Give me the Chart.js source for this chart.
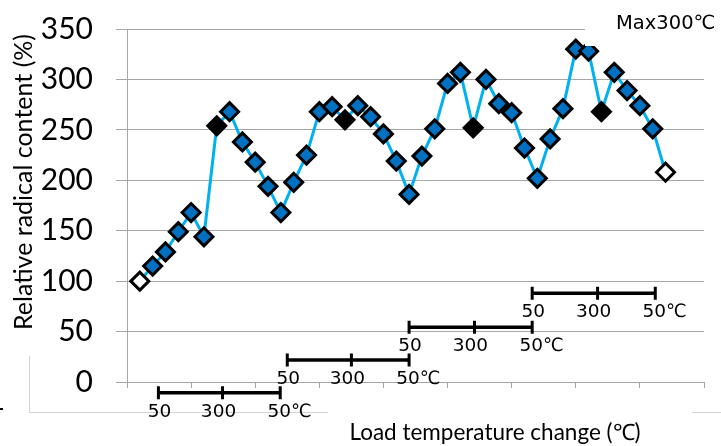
<!DOCTYPE html>
<html>
<head>
<meta charset="utf-8">
<script src="https://cdn.jsdelivr.net/npm/chart.js@4/dist/chart.umd.min.js"></script>
<style>
  html, body { margin: 0; padding: 0; background: #fff; }
  canvas { display: block; }
</style>
</head>
<body>
<canvas id="c" width="721" height="446" style="width:721px;height:446px"></canvas>
<script>
// ---- data ----
const sampleNo = [1,2,3,4,5,6,7,8,9,10,11,12,13,14,15,16,17,18,19,20,21,22,23,24,25,26,27,28,29,30,31,32,33,34,35,36,37,38,39,40,41,42];
const radicalContent = [100,115,129,149,168,144,254,268,238,218,194,168,198,225,268,273,260,274,263,246,219,186,224,251,296,307,252,300,276,267,232,202,241,271,330,328,268,307,289,274,251,208];
const blackPoints = [7,17,27,37];
const hollowPoints = [1,42];
const yTicks = [0,50,100,150,200,250,300,350];

// load-cycle brackets (x in sample units, level in % units)
const cycleStart = [2.45, 12.5, 22.0, 31.6];
const cycleMid   = [7.45, 17.5, 27.1, 36.7];
const cycleEnd   = [11.95, 22.0, 31.6, 41.2];
const cycleLevel = [-10.6, 21.8, 54.2, 87.9];
const cycleLabels = ['50', '300', '50℃'];

const yTitle = 'Relative radical content (%)';
const xTitle = 'Load temperature change (℃)';
const maxNote = 'Max300℃';

const GRID = '#a6a6a6';

const decor = {
  id: 'decor',
  beforeDraw(chart) {
    const ctx = chart.ctx;
    ctx.save();
    ctx.strokeStyle = '#d4d4d4';
    ctx.lineWidth = 1;
    ctx.beginPath();
    ctx.moveTo(29.5, 356); ctx.lineTo(29.5, 412.5);
    ctx.moveTo(29, 412.5); ctx.lineTo(328, 412.5);
    ctx.moveTo(692, 412.5); ctx.lineTo(721, 412.5);
    ctx.stroke();
    ctx.fillStyle = '#000';
    ctx.fillRect(0, 408, 3, 2);
    ctx.restore();
  },
  afterDatasetsDraw(chart) {
    const ctx = chart.ctx;
    const xs = chart.scales.x, ys = chart.scales.y;
    ctx.save();
    // white text box for "Max300℃"
    ctx.fillStyle = '#fff';
    ctx.fillRect(585, 0, 136, 46);
    ctx.fillStyle = '#000';
    ctx.font = '19.5px "DejaVu Sans"';
    ctx.textAlign = 'left';
    ctx.textBaseline = 'alphabetic';
    ctx.fillText(maxNote, 616, 28.5);

    // brackets
    ctx.strokeStyle = '#000';
    ctx.lineCap = 'butt';
    for (let i = 0; i < cycleStart.length; i++) {
      const x0 = xs.getPixelForValue(cycleStart[i]);
      const x1 = xs.getPixelForValue(cycleMid[i]);
      const x2 = xs.getPixelForValue(cycleEnd[i]);
      const y = ys.getPixelForValue(cycleLevel[i]);
      ctx.lineWidth = 3.5;
      ctx.beginPath();
      ctx.moveTo(x0, y); ctx.lineTo(x2, y);
      ctx.stroke();
      ctx.lineWidth = 3;
      ctx.beginPath();
      [x0, x1, x2].forEach(px => { ctx.moveTo(px, y - 6.5); ctx.lineTo(px, y + 6.5); });
      ctx.stroke();
      ctx.fillStyle = '#000';
      ctx.font = '18.5px "DejaVu Sans"';
      ctx.textBaseline = 'middle';
      ctx.textAlign = 'center';
      ctx.fillText(cycleLabels[0], x0 + 1, y + 19);
      ctx.fillText(cycleLabels[1], x1 - 4, y + 19);
      const w50 = ctx.measureText('50').width;
      ctx.textAlign = 'left';
      ctx.fillText(cycleLabels[2], x2 - 1 - w50 / 2, y + 19);
    }

    // axis titles
    ctx.fillStyle = '#000';
    ctx.font = '22.5px Lato';
    ctx.textAlign = 'center';
    ctx.textBaseline = 'alphabetic';
    ctx.fillText(xTitle, 495, 439.5);
    ctx.save();
    ctx.translate(24, 182);
    ctx.rotate(-Math.PI / 2);
    ctx.font = '25px Lato';
    ctx.textBaseline = 'middle';
    ctx.fillText(yTitle, 0, 0);
    ctx.restore();
    ctx.restore();
  }
};

new Chart(document.getElementById('c'), {
  type: 'line',
  data: {
    datasets: [{
      data: sampleNo.map((n, i) => ({ x: n, y: radicalContent[i] })),
      borderColor: '#00B0F0',
      borderWidth: 3,
      tension: 0,
      pointStyle: 'rectRot',
      pointRadius: 9,
      pointHoverRadius: 9,
      pointBorderWidth: 3,
      pointBorderColor: '#000',
      pointBackgroundColor: c => {
        const n = sampleNo[c.dataIndex];
        if (hollowPoints.includes(n)) return '#ffffff';
        if (blackPoints.includes(n)) return '#000000';
        return '#0070C0';
      },
      clip: false
    }]
  },
  options: {
    responsive: false,
    animation: false,
    events: [],
    layout: { padding: { top: 29, right: 17, bottom: 0, left: 0 } },
    plugins: { legend: { display: false }, tooltip: { enabled: false } },
    scales: {
      x: {
        type: 'linear', min: 0, max: 45,
        ticks: { stepSize: 5, display: false },
        grid: { drawOnChartArea: false, drawTicks: true, tickLength: 6, color: GRID, lineWidth: 1 },
        border: { color: GRID, width: 1 },
        afterFit: s => { s.height = 64; s.paddingLeft = 0; s.paddingRight = 0; }
      },
      y: {
        min: 0, max: 350,
        afterBuildTicks: s => { s.ticks = yTicks.map(v => ({ value: v })); },
        ticks: { padding: 23, color: '#000', font: { family: 'Lato', size: 30 } },
        grid: { color: GRID, lineWidth: 1, tickLength: 11 },
        border: { color: GRID, width: 1 },
        afterFit: s => { s.width = 127; s.paddingTop = 0; s.paddingBottom = 0; }
      }
    }
  },
  plugins: [decor]
});
</script>
</body>
</html>
